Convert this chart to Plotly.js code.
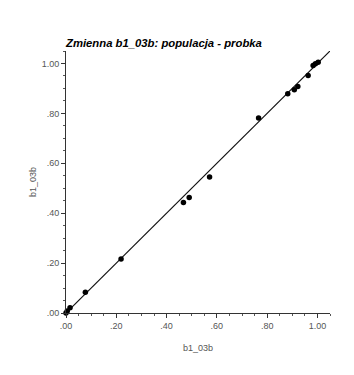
<!DOCTYPE html>
<html>
<head>
<meta charset="utf-8">
<script src="https://cdn.plot.ly/plotly-3.0.1.min.js"></script>
<style>html,body{margin:0;padding:0;background:#fff;}#chart{width:354px;height:375px;}</style>
</head>
<body>
<div id="chart"></div>
<script>
var titleText = "Zmienna b1_03b: populacja - probka";
var xTitle = "b1_03b";
var yTitle = "b1_03b";
var populacja = [0.000, 0.005, 0.016, 0.077, 0.219, 0.467, 0.490, 0.571, 0.766, 0.882, 0.908, 0.922, 0.963, 0.983, 0.992, 1.003];
var probka    = [0.000, 0.008, 0.021, 0.083, 0.216, 0.443, 0.463, 0.545, 0.781, 0.879, 0.895, 0.908, 0.952, 0.992, 0.999, 1.005];
var refLineX = [0, 1.07];
var refLineY = [0, 1.07];
var tickVals = [0, 0.2, 0.4, 0.6, 0.8, 1.0];
var tickLabels = [".00", ".20", ".40", ".60", ".80", "1.00"];

var font = "Liberation Sans, Arial, sans-serif";
var axisCommon = {
  range: [0, 1.05],
  showgrid: false,
  zeroline: false,
  showline: true,
  linecolor: "#333",
  linewidth: 1,
  ticks: "outside",
  ticklen: 4,
  tickcolor: "#333",
  tickmode: "array",
  tickvals: tickVals,
  ticktext: tickLabels,
  tickfont: {family: font, size: 9, color: "#555"},
  minor: {dtick: 0.05, ticks: "outside", ticklen: 2, tickcolor: "#555", showgrid: false},
  fixedrange: true
};

var traces = [
  {x: refLineX, y: refLineY, mode: "lines", line: {color: "#111", width: 1.2}, hoverinfo: "skip"},
  {x: populacja, y: probka, mode: "markers", marker: {color: "#000", size: 5.5}, cliponaxis: false}
];

var layout = {
  width: 354, height: 375,
  margin: {l: 66, r: 24, t: 51, b: 62},
  paper_bgcolor: "#fff", plot_bgcolor: "#fff",
  showlegend: false,
  title: {text: "<b><i>" + titleText + "</i></b>", x: 66/354, xanchor: "left", y: 1 - 43/375, yanchor: "middle",
          font: {family: font, size: 11.3, color: "#000"}},
  xaxis: Object.assign({}, axisCommon, {title: {text: xTitle, font: {family: font, size: 9, color: "#555"}, standoff: 14}}),
  yaxis: Object.assign({}, axisCommon, {title: {text: yTitle, font: {family: font, size: 9, color: "#555"}, standoff: 3}})
};

Plotly.newPlot("chart", traces, layout, {displayModeBar: false, staticPlot: true});
</script>
</body>
</html>
